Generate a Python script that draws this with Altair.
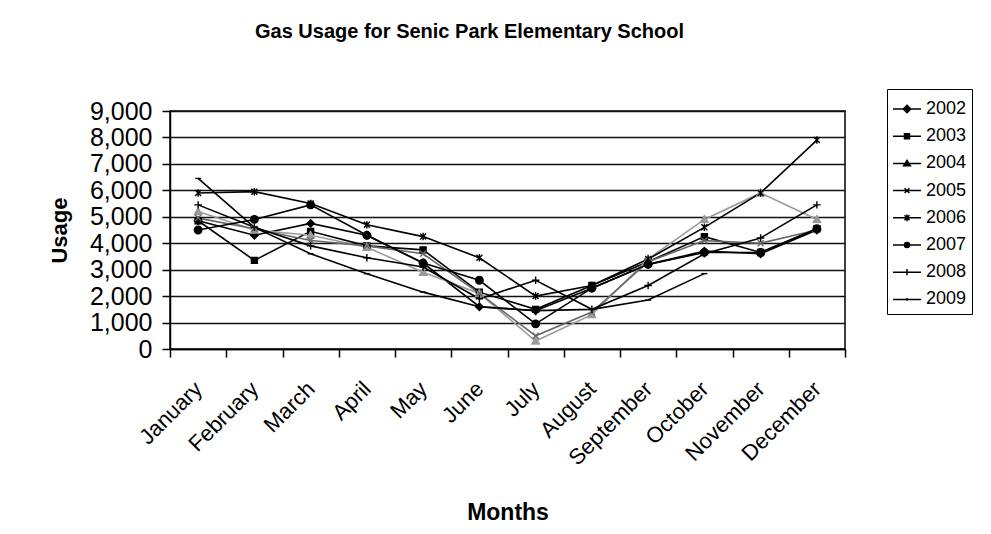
import altair as alt
import pandas as pd

months = ["January", "February", "March", "April", "May", "June", "July",
          "August", "September", "October", "November", "December"]
years = ["2002", "2003", "2004", "2005", "2006", "2007", "2008", "2009"]

u2002 = [4850, 4300, 4750, 4300, 3250, 1600, 1450, 2300, 3200, 3700, 3600, 4500]
u2003 = [4850, 3350, 4450, 3900, 3750, 2150, 1500, 2400, 3300, 4250, 3650, 4550]
u2004 = [5200, 4500, 4300, 3850, 2900, 2100, 300, 1300, 3400, 4900, 5900, 4900]
u2005 = [4950, 4550, 4100, 3900, 3600, 2100, 500, 1400, 3300, 4100, 4000, 4500]
u2006 = [5900, 5950, 5500, 4700, 4250, 3450, 2000, 2400, 3400, 4600, 5900, 7900]
u2007 = [4500, 4900, 5450, 4300, 3250, 2600, 950, 2300, 3200, 3650, 3650, 4550]
u2008 = [5450, 4600, 3900, 3450, 3100, 1900, 2600, 1500, 2400, 3600, 4200, 5450]
u2009 = [6450, 4600, 3600, 2850, 2150, 1600, 1450, 1500, 1850, 2850, None, None]

series = [u2002, u2003, u2004, u2005, u2006, u2007, u2008, u2009]
rows = []
for yr, vals in zip(years, series):
    for m, v in zip(months, vals):
        if v is not None:
            rows.append({"Month": m, "Year": yr, "Usage": v})
df = pd.DataFrame(rows)

line_colors = ["#000000", "#000000", "#9a9a9a", "#666666",
               "#000000", "#000000", "#000000", "#000000"]

marker_paths = [
    "M0,-1L1,0L0,1L-1,0Z",
    "M-0.8,-0.8L0.8,-0.8L0.8,0.8L-0.8,0.8Z",
    "M0,-1L1,0.8L-1,0.8Z",
    "M-0.8,-0.8L0.8,0.8M0.8,-0.8L-0.8,0.8",
    "M-0.8,-0.8L0.8,0.8M0.8,-0.8L-0.8,0.8M0,-1L0,1",
    "circle",
    "M-1,0L1,0M0,-1L0,1",
    "M-0.8,0L0.8,0",
]
legend_paths = [
    "M-1,0L1,0M0,-0.27L0.27,0L0,0.27L-0.27,0ZM0,-0.15L0.15,0L0,0.15L-0.15,0Z",
    "M-1,0L1,0M-0.18,-0.18L0.18,-0.18L0.18,0.18L-0.18,0.18ZM-0.08,-0.08L0.08,-0.08L0.08,0.08L-0.08,0.08Z",
    "M-1,0L1,0M0,-0.22L0.24,0.16L-0.24,0.16ZM0,-0.08L0.1,0.1L-0.1,0.1Z",
    "M-1,0L1,0M-0.17,-0.17L0.17,0.17M0.17,-0.17L-0.17,0.17",
    "M-1,0L1,0M-0.18,-0.18L0.18,0.18M0.18,-0.18L-0.18,0.18M0,-0.24L0,0.24M-0.1,-0.1L0.1,-0.1L0.1,0.1L-0.1,0.1Z",
    "M-1,0L1,0M0.18,0A0.18,0.18 0 1,1 -0.18,0A0.18,0.18 0 1,1 0.18,0ZM0.08,0A0.08,0.08 0 1,1 -0.08,0A0.08,0.08 0 1,1 0.08,0Z",
    "M-1,0L1,0M0,-0.22L0,0.22",
    "M-1,0L1,0M0,-0.1L0,0.1",
]

FONT = "Liberation Sans"

x_enc = alt.X("Month:N", sort=months,
              scale=alt.Scale(paddingInner=0, paddingOuter=0),
              axis=alt.Axis(title="Months", labelAngle=-45, labelAlign="right",
                            labelBaseline="middle", labelFontSize=22,
                            labelPadding=28, tickSize=8, tickBand="extent",
                            titleFontSize=23, titleFontWeight="bold",
                            titlePadding=33, grid=False))
y_enc = alt.Y("Usage:Q",
              scale=alt.Scale(domain=[0, 9000], nice=False),
              axis=alt.Axis(title="Usage", values=list(range(0, 9001, 1000)),
                            format=",.0f", labelFontSize=25, labelPadding=10,
                            tickSize=8, titleFontSize=22, titleFontWeight="bold",
                            titlePadding=18, grid=True))
color_scale = alt.Scale(domain=years, range=line_colors)

base = alt.Chart(df)

lines = base.mark_line(strokeWidth=1.6).encode(
    x=x_enc, y=y_enc,
    color=alt.Color("Year:N", scale=color_scale, legend=None),
)

points = base.mark_point(filled=True, size=56, strokeWidth=1.4, opacity=1).encode(
    x=x_enc, y=y_enc,
    shape=alt.Shape("Year:N", scale=alt.Scale(domain=years, range=marker_paths), legend=None),
    fill=alt.Fill("Year:N", scale=color_scale, legend=None),
    stroke=alt.Stroke("Year:N", scale=color_scale, legend=None),
)

legend_layer = base.transform_filter("false").mark_point(
    filled=False, color="black", strokeWidth=1.5, opacity=1
).encode(
    x=x_enc, y=y_enc,
    shape=alt.Shape("Year:N", scale=alt.Scale(domain=years, range=legend_paths),
                    legend=alt.Legend(title=None, orient="none", legendX=717, legendY=-22,
                                      symbolSize=784, labelFontSize=18, labelOffset=4,
                                      rowPadding=3.2, padding=5, strokeColor="black",
                                      labelFont=FONT,
                                      symbolStrokeColor="black",
                                      symbolStrokeWidth=1.5,
                                      symbolOpacity=1)),
)

chart = alt.layer(lines, points, legend_layer).resolve_scale(
    shape="independent"
).properties(
    width=675, height=238,
    autosize="none",
    padding={"left": 162, "top": 103, "right": 130, "bottom": 177},
    title=alt.TitleParams("Gas Usage for Senic Park Elementary School",
                          fontSize=20, fontWeight="bold", font=FONT,
                          anchor="middle", dx=-38, offset=47),
).configure(
    font=FONT,
).configure_axis(
    domainColor="black", domainWidth=1.5, tickColor="black", tickWidth=1.5,
    gridColor="#111111", gridWidth=1.5, labelColor="black", titleColor="black",
    labelFont=FONT, titleFont=FONT,
).configure_view(
    stroke="black", strokeWidth=1.5,
).configure_legend(
    labelColor="black",
)

chart.save("out.html", embed_options={"renderer": "svg", "actions": False})
